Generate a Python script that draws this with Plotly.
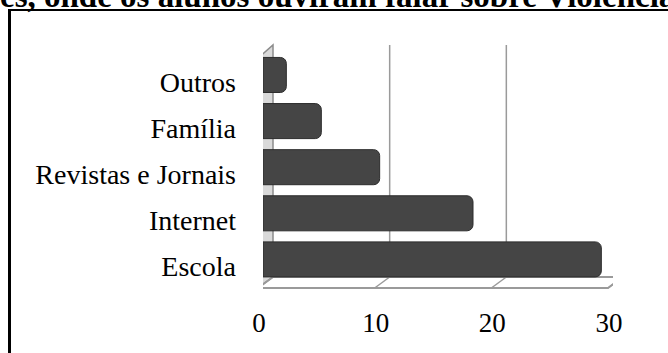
import plotly.graph_objects as go

# ---- data ----
categories = ["Escola", "Internet", "Revistas e Jornais", "Família", "Outros"]
values = [29, 18, 10, 5, 2]
x_ticks = [0, 10, 20, 30]
title_text = "es, onde os alunos ouviram falar sobre Violência"

# ---- geometry (pixels) ----
W, H = 668, 353
L, R, T, B = 263, 613, 45, 288
PW, PH = R - L, B - T
XMAX = 30
k = PW / XMAX  # px per unit
FRONT, BACK, DEPTH_Y = -5, 10, 11

def pxx(px):
    return (px - L) / PW

def pxy(py):
    return (B - py) / PH

fig = go.Figure()
fig.add_trace(go.Bar(
    y=categories, x=values, orientation="h",
    marker=dict(color="#454545", line=dict(color="#2c2c2c", width=1), cornerradius=6),
    width=0.76, hoverinfo="skip",
))

shapes = []
# left wall
shapes.append(dict(type="path", xref="x", xsizemode="pixel", xanchor=0,
                   yref="paper", ysizemode="pixel", yanchor=0,
                   path=f"M {FRONT},0 L {FRONT},{PH-13} L {BACK},{PH} L {BACK},{DEPTH_Y} Z",
                   fillcolor="#d9d9d9", line=dict(color="#8c8c8c", width=1.5), layer="below"))
# floor
shapes.append(dict(type="path", xref="x", xsizemode="pixel", xanchor=0,
                   yref="paper", ysizemode="pixel", yanchor=0,
                   path=f"M {FRONT},0 L {XMAX*k+FRONT},0 L {XMAX*k+BACK},{DEPTH_Y} L {BACK},{DEPTH_Y} Z",
                   fillcolor="white", line=dict(color="#9a9a9a", width=2), layer="below"))
for v in x_ticks:
    shapes.append(dict(type="line", xref="x", xsizemode="pixel", xanchor=v,
                       yref="paper", ysizemode="pixel", yanchor=0,
                       x0=FRONT, x1=BACK, y0=0, y1=DEPTH_Y,
                       line=dict(color="#9a9a9a", width=1.5), layer="below"))
    if v > 0:
        shapes.append(dict(type="line", xref="x", xsizemode="pixel", xanchor=v,
                           yref="paper", ysizemode="pixel", yanchor=0,
                           x0=BACK, x1=BACK, y0=DEPTH_Y, y1=PH,
                           line=dict(color="#9a9a9a", width=1.5), layer="below"))
# outer frame (top and left border)
shapes.append(dict(type="line", xref="paper", yref="paper",
                   x0=pxx(9.5), x1=pxx(9.5), y0=pxy(9), y1=pxy(H + 5),
                   line=dict(color="black", width=3), layer="above"))
shapes.append(dict(type="line", xref="paper", yref="paper",
                   x0=pxx(8), x1=pxx(W + 5), y0=pxy(10), y1=pxy(10),
                   line=dict(color="black", width=2), layer="above"))

fig.update_layout(
    width=W, height=H,
    margin=dict(l=L, r=W - R, t=T, b=H - B, autoexpand=False),
    paper_bgcolor="white", plot_bgcolor="rgba(0,0,0,0)",
    showlegend=False, bargap=0.24,
    font=dict(family="Liberation Serif", color="black", size=28),
    shapes=shapes,
    xaxis=dict(range=[0, XMAX], tickvals=x_ticks, showgrid=False, zeroline=False,
               showline=False, ticks="", ticklabelstandoff=16, ticklabelshift=-4,
               tickfont=dict(size=27), fixedrange=True),
    yaxis=dict(type="category", categoryarray=categories, range=[-0.62, 4.65],
               showgrid=False, zeroline=False, showline=False, ticks="",
               ticklabelstandoff=26, ticklabelshift=7, tickfont=dict(size=28), fixedrange=True),
    annotations=[dict(text=f"<b>{title_text}</b>", xref="paper", yref="paper",
                      x=pxx(-2), y=pxy(16), xanchor="left", yanchor="bottom",
                      showarrow=False, font=dict(family="Liberation Serif", size=33, color="black"))],
)

fig.write_html("out.html")
